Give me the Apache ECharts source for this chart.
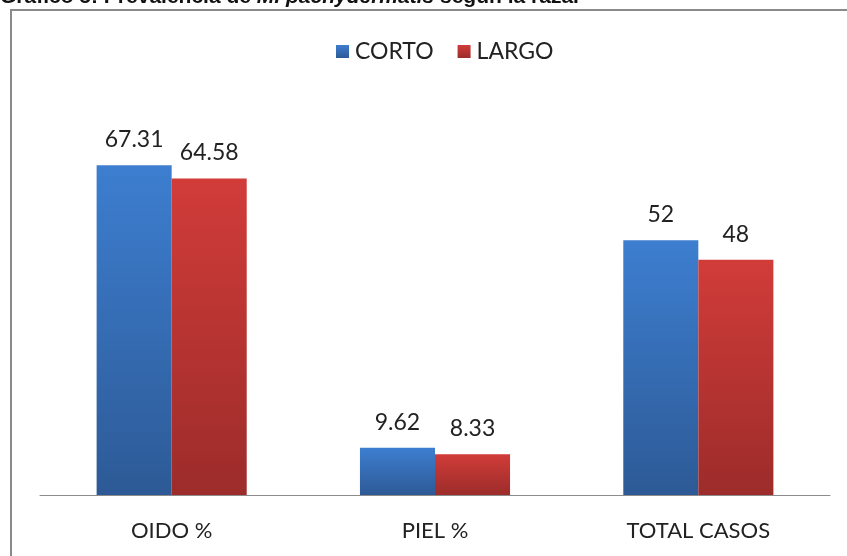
<!DOCTYPE html>
<html>
<head>
<meta charset="utf-8">
<script src="https://cdn.jsdelivr.net/npm/echarts@6/dist/echarts.min.js"></script>
<style>
  html, body { margin: 0; padding: 0; background: #fff; }
  #chart { width: 847px; height: 556px; }
</style>
</head>
<body>
<div id="chart"></div>
<script>
// Prevalence of M. pachydermatis by coat length
const categories = ['OIDO %', 'PIEL %', 'TOTAL CASOS'];
const corto = [67.31, 9.62, 52];
const largo = [64.58, 8.33, 48];
const seriesNames = ['CORTO', 'LARGO'];

const FONT = 'Lato, "Open Sans", sans-serif';
const CAPTION_FONT = '"Liberation Sans", Arial, sans-serif';

function vGrad(top, bottom) {
  return new echarts.graphic.LinearGradient(0, 0, 0, 1, [
    { offset: 0, color: top },
    { offset: 1, color: bottom }
  ]);
}

const labelStyle = {
  show: true,
  position: 'top',
  distance: 14,
  color: '#222',
  fontSize: 23,
  fontFamily: FONT
};

const chart = echarts.init(document.getElementById('chart'), null, { renderer: 'canvas' });
chart.setOption({
  animation: false,
  backgroundColor: '#fff',
  graphic: [
    {
      type: 'rect',
      shape: { x: 11, y: 10, width: 900, height: 600 },
      style: { fill: 'none', stroke: '#8a8a8a', lineWidth: 2 },
      silent: true
    },
    {
      type: 'text',
      left: 0,
      top: -13,
      style: {
        text: 'Gráfico 5: Prevalencia de {i|M. pachydermatis} según la raza.',
        font: 'bold 21px ' + CAPTION_FONT,
        fill: '#111',
        rich: {
          i: { fontStyle: 'italic', fontWeight: 'bold', fontSize: 21, fontFamily: CAPTION_FONT, fill: '#111' }
        }
      },
      silent: true
    }
  ],
  legend: {
    top: 35,
    left: 331,
    itemWidth: 13,
    itemHeight: 13,
    itemGap: 24,
    icon: 'rect',
    textStyle: { fontSize: 23, color: '#222', fontFamily: FONT, padding: [0, 0, 0, 1] },
    data: seriesNames
  },
  grid: { left: 40, right: 17, top: 103, bottom: 61, containLabel: false },
  xAxis: {
    type: 'category',
    data: categories,
    axisLine: { lineStyle: { color: '#8c8c8c', width: 1.2 } },
    axisTick: { show: false },
    axisLabel: { color: '#222', fontSize: 22, fontFamily: FONT, margin: 25 }
  },
  yAxis: {
    type: 'value',
    min: 0,
    max: 80,
    show: false,
    splitLine: { show: false }
  },
  series: [
    {
      name: seriesNames[0],
      type: 'bar',
      data: corto,
      barGap: '0%',
      barCategoryGap: '43%',
      itemStyle: { color: vGrad('#3d7ed0', '#2d5a96') },
      label: labelStyle
    },
    {
      name: seriesNames[1],
      type: 'bar',
      data: largo,
      itemStyle: { color: vGrad('#d13c39', '#9c2c2a') },
      label: labelStyle
    }
  ]
});
</script>
</body>
</html>
